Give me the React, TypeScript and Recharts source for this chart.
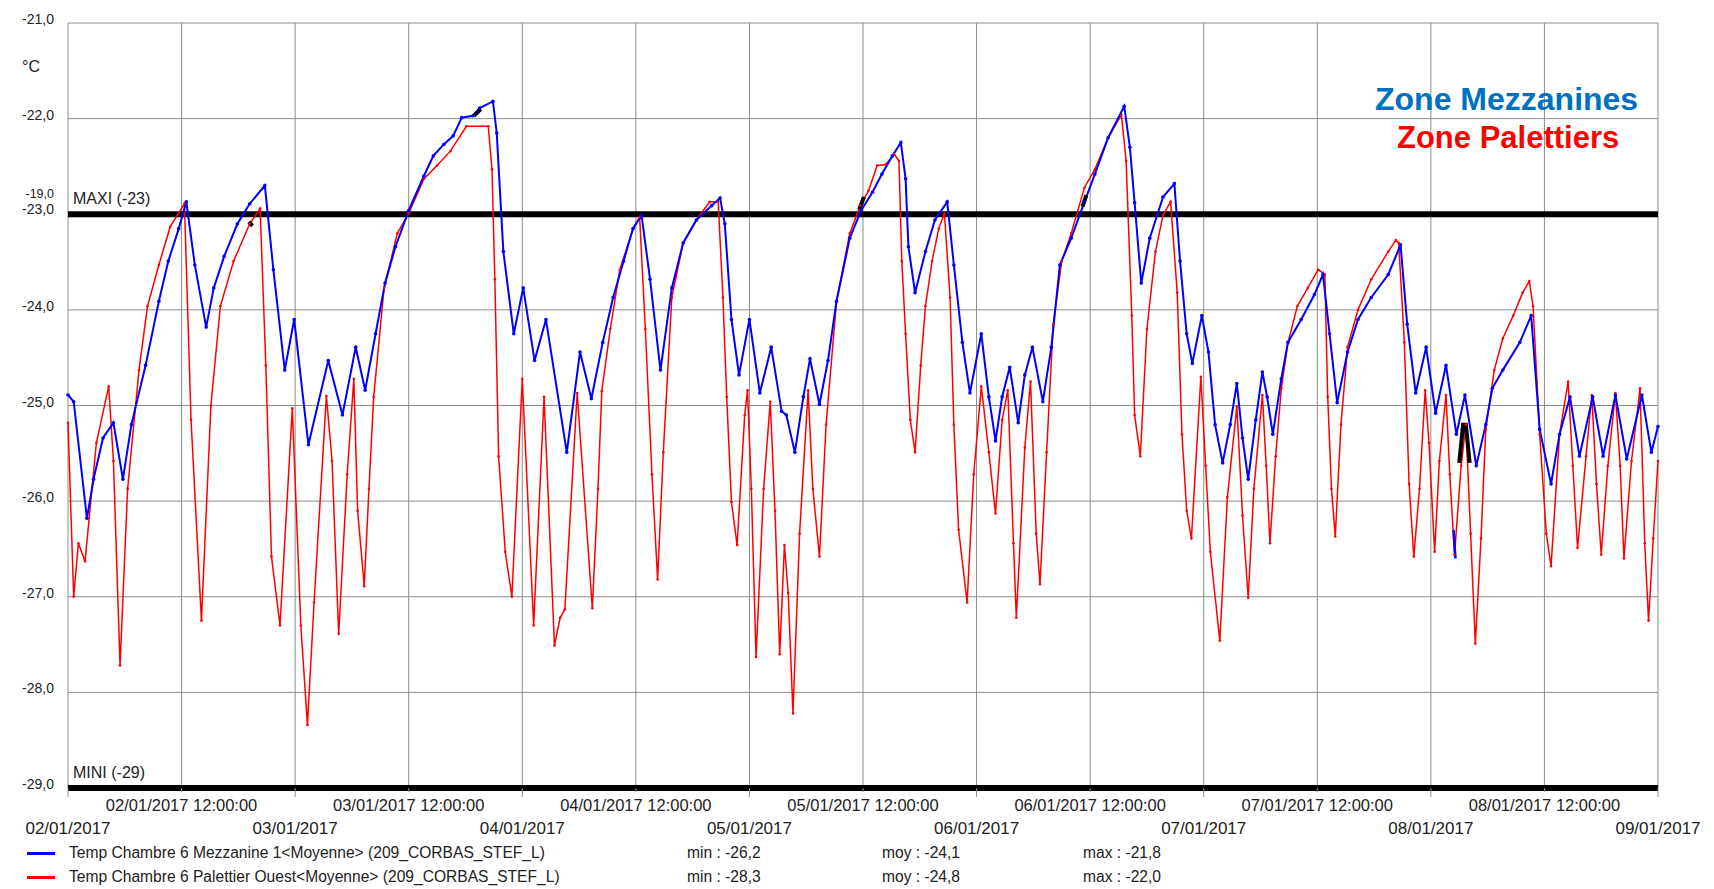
import React from 'react';
import {
  LineChart,
  Line,
  XAxis,
  YAxis,
  CartesianGrid,
  ReferenceLine,
  Legend,
} from 'recharts';

const FONT = "'Liberation Sans', Arial, sans-serif";
const GRID = '#8c8c8c';

// x = hours since 02/01/2017 00:00
const dayLabels = [
  '02/01/2017', '03/01/2017', '04/01/2017', '05/01/2017',
  '06/01/2017', '07/01/2017', '08/01/2017', '09/01/2017',
];
const hourTicks = [0, 12, 24, 36, 48, 60, 72, 84, 96, 108, 120, 132, 144, 156, 168];
const tempTicks = [-29, -28, -27, -26, -25, -24, -23, -22, -21];

// [hour, °C]
const mezzanine = [
  [0, -24.89], [0.6, -24.96], [2.0, -26.18], [2.7, -25.77], [3.7, -25.34], [4.8, -25.18],
  [5.8, -25.77], [6.7, -25.2], [8.2, -24.58], [9.6, -23.91], [10.6, -23.49], [11.7, -23.15],
  [12.5, -22.87], [13.4, -23.53], [14.6, -24.18], [15.4, -23.77], [16.5, -23.44], [17.9, -23.1],
  [19.2, -22.89], [20.8, -22.7], [21.7, -23.58], [22.9, -24.63], [23.9, -24.1], [25.4, -25.41],
  [27.5, -24.53], [29.0, -25.1], [30.4, -24.39], [31.4, -24.84], [32.5, -24.25], [33.5, -23.72],
  [34.6, -23.34], [36.0, -22.96], [37.6, -22.6], [38.6, -22.39], [39.7, -22.27], [40.7, -22.18],
  [41.6, -21.99], [42.8, -21.97], [43.5, -21.89], [44.9, -21.82], [45.3, -22.15], [46.0, -23.39],
  [47.1, -24.25], [48.1, -23.77], [49.3, -24.53], [50.5, -24.1], [52.7, -25.49], [54.1, -24.44],
  [55.3, -24.93], [56.5, -24.34], [57.6, -23.87], [58.7, -23.49], [59.7, -23.15], [60.6, -23.01],
  [61.5, -23.68], [62.6, -24.63], [63.8, -23.77], [65.0, -23.3], [66.4, -23.06], [68.0, -22.91],
  [68.9, -22.83], [69.4, -23.1], [70.1, -24.1], [70.9, -24.68], [72.0, -24.1], [73.1, -24.87],
  [74.3, -24.39], [75.4, -25.06], [75.9, -25.1], [76.8, -25.49], [77.7, -24.91], [78.4, -24.51],
  [79.4, -24.99], [80.3, -24.53], [81.2, -23.91], [82.6, -23.25], [83.8, -22.96], [85.0, -22.77],
  [86.0, -22.58], [87.1, -22.39], [88.0, -22.25], [88.5, -22.63], [88.8, -23.34], [89.5, -23.82],
  [90.6, -23.39], [91.6, -23.06], [92.9, -22.87], [93.6, -23.53], [94.5, -24.34], [95.3, -24.87],
  [96.5, -24.25], [97.3, -24.91], [98.0, -25.37], [98.7, -24.91], [99.5, -24.6], [100.4, -25.18],
  [101.1, -24.68], [101.9, -24.39], [103.0, -24.96], [103.9, -24.39], [104.8, -23.53], [106.0, -23.25],
  [107.4, -22.87], [108.5, -22.58], [109.9, -22.2], [111.6, -21.87], [112.2, -22.3], [112.7, -22.88],
  [113.4, -23.72], [114.3, -23.25], [115.7, -22.82], [116.9, -22.68], [117.5, -23.49], [118.2, -24.25],
  [118.8, -24.56], [119.8, -24.06], [120.5, -24.44], [121.2, -25.2], [122.0, -25.6], [122.8, -25.2],
  [123.5, -24.77], [124.1, -25.34], [124.7, -25.77], [125.5, -25.15], [126.2, -24.65], [126.7, -24.91],
  [127.3, -25.3], [128.2, -24.72], [128.9, -24.34], [130.3, -24.1], [131.7, -23.84], [132.6, -23.63],
  [133.3, -24.25], [134.1, -24.97], [135.2, -24.44], [136.3, -24.1], [137.7, -23.87], [139.5, -23.63],
  [140.8, -23.32], [141.5, -24.15], [142.4, -24.87], [143.5, -24.39], [144.5, -25.08], [145.6, -24.58],
  [146.7, -25.3], [147.6, -24.89], [148.8, -25.63], [149.8, -25.2], [150.5, -24.82], [151.6, -24.63],
  [153.4, -24.34], [154.6, -24.06], [155.5, -25.25], [156.7, -25.82], [157.6, -25.3], [158.7, -24.91],
  [159.7, -25.53], [161.1, -24.91], [162.2, -25.53], [163.5, -24.89], [164.7, -25.56], [166.3, -24.89],
  [167.3, -25.49], [168.0, -25.22],
];

const palettier = [
  [0, -25.18], [0.6, -27.0], [1.1, -26.44], [1.8, -26.63], [3.0, -25.39], [4.3, -24.8],
  [4.8, -25.58], [5.5, -27.72], [6.3, -25.87], [7.5, -24.63], [8.4, -23.96], [9.6, -23.53],
  [10.8, -23.13], [12.3, -22.89], [13.0, -25.15], [14.1, -27.25], [15.1, -25.0], [16.1, -23.96],
  [17.5, -23.49], [19.2, -23.1], [20.3, -22.94], [20.9, -24.58], [21.5, -26.58], [22.4, -27.3],
  [23.7, -25.03], [24.6, -27.3], [25.3, -28.34], [26.0, -27.06], [27.3, -24.9], [27.9, -25.58],
  [28.6, -27.39], [29.5, -25.72], [30.2, -24.72], [30.6, -26.1], [31.3, -26.89], [31.8, -25.87],
  [32.3, -24.91], [33.4, -23.77], [34.8, -23.2], [36.0, -22.99], [37.6, -22.63], [39.0, -22.49],
  [40.4, -22.34], [42.1, -22.08], [44.4, -22.08], [44.8, -22.53], [45.1, -23.68], [45.5, -25.53],
  [46.2, -26.53], [46.9, -27.0], [48.0, -24.72], [49.2, -27.3], [50.3, -24.91], [51.4, -27.51],
  [52.0, -27.22], [52.5, -27.13], [53.8, -24.87], [55.4, -27.12], [56.0, -25.87], [56.4, -24.85],
  [57.3, -24.2], [58.3, -23.58], [59.7, -23.15], [60.4, -23.03], [61.0, -24.2], [61.7, -25.72],
  [62.3, -26.82], [62.9, -25.49], [63.8, -23.87], [65.0, -23.3], [66.4, -23.06], [67.8, -22.87],
  [68.7, -22.87], [69.2, -23.87], [69.6, -24.91], [70.1, -26.01], [70.7, -26.46], [71.5, -25.1],
  [71.8, -24.84], [72.2, -25.87], [72.7, -27.63], [73.5, -25.87], [74.2, -24.96], [74.7, -26.1],
  [75.2, -27.6], [75.7, -26.46], [76.1, -26.96], [76.6, -28.22], [77.3, -26.34], [78.2, -24.84],
  [78.7, -25.87], [79.4, -26.58], [80.1, -25.2], [81.2, -23.91], [82.6, -23.2], [83.7, -22.91],
  [84.6, -22.75], [85.5, -22.49], [86.4, -22.48], [87.3, -22.37], [87.8, -22.44], [88.1, -23.49],
  [88.5, -24.25], [89.0, -25.15], [89.5, -25.49], [90.1, -24.58], [90.6, -23.96], [91.3, -23.49],
  [92.0, -23.15], [92.6, -22.99], [93.2, -23.87], [93.6, -25.2], [94.1, -26.3], [95.0, -27.06],
  [95.7, -25.72], [96.5, -24.8], [97.3, -25.49], [98.0, -26.13], [98.7, -25.15], [99.3, -24.84],
  [99.9, -26.44], [100.2, -27.22], [101.1, -25.44], [101.7, -24.75], [102.3, -26.34], [102.7, -26.87],
  [103.4, -25.49], [104.1, -24.15], [105.0, -23.49], [106.0, -23.2], [107.4, -22.72], [108.5, -22.53],
  [109.9, -22.2], [111.3, -21.96], [111.8, -22.44], [112.4, -24.06], [112.7, -25.1], [113.3, -25.53],
  [114.0, -24.2], [114.9, -23.39], [115.7, -23.01], [116.5, -22.87], [117.2, -23.82], [117.7, -25.3],
  [118.2, -26.1], [118.7, -26.39], [119.7, -24.7], [120.2, -25.63], [120.7, -26.53], [121.7, -27.46],
  [122.5, -25.96], [123.5, -25.01], [124.1, -26.15], [124.7, -27.01], [125.3, -25.87], [126.2, -24.89],
  [126.6, -25.63], [127.0, -26.44], [127.6, -25.53], [128.2, -24.82], [128.9, -24.34], [129.9, -23.96],
  [131.0, -23.77], [132.1, -23.58], [132.8, -23.63], [133.1, -24.91], [133.5, -25.87], [133.9, -26.37],
  [134.5, -25.2], [135.2, -24.39], [136.3, -24.0], [137.7, -23.68], [139.5, -23.39], [140.3, -23.27],
  [140.6, -23.3], [141.2, -24.34], [141.7, -25.82], [142.2, -26.58], [142.8, -25.87], [143.4, -24.84],
  [143.8, -25.39], [144.4, -26.53], [144.9, -25.58], [145.6, -24.89], [146.0, -25.72], [146.5, -26.56],
  [147.2, -25.63], [147.7, -25.2], [148.2, -26.34], [148.7, -27.49], [149.3, -26.39], [149.8, -25.25],
  [150.7, -24.63], [151.6, -24.3], [152.7, -24.06], [153.7, -23.82], [154.4, -23.7], [154.8, -23.96],
  [155.5, -25.3], [156.2, -26.34], [156.7, -26.68], [157.6, -25.3], [158.5, -24.75], [159.0, -25.63],
  [159.5, -26.49], [160.4, -25.53], [161.0, -24.89], [161.5, -25.82], [162.0, -26.56], [162.7, -25.63],
  [163.5, -24.87], [164.0, -25.63], [164.4, -26.6], [165.2, -25.58], [166.1, -24.82], [166.6, -26.44],
  [167.0, -27.25], [167.5, -26.39], [168.0, -25.58],
];

// stray mezzanine samples and black alarm marks
const mezzStray = [[146.4, -26.3], [146.6, -26.6]];
const alarmMarks = [
  [19.1, -23.08], [19.5, -23.12], [19.6, null],
  [42.9, -21.97], [43.6, -21.9], [43.7, null],
  [83.6, -22.95], [84.1, -22.82], [84.2, null],
  [107.2, -22.92], [107.6, -22.8], [107.7, null],
  [147.0, -25.6], [147.4, -25.2], [147.7, -25.2], [148.1, -25.6],
];

const seriesNames = [
  'Temp Chambre 6 Mezzanine 1<Moyenne> (209_CORBAS_STEF_L)',
  'Temp Chambre 6 Palettier Ouest<Moyenne> (209_CORBAS_STEF_L)',
];
const seriesColors = ['#0000ff', '#ff0000'];
const seriesMin = ['-26,2', '-28,3'];
const seriesMoy = ['-24,1', '-24,8'];
const seriesMax = ['-21,8', '-22,0'];

const toPoints = (rows) => rows.map(([h, v]) => ({ h, v }));

const fmt = (v) => v.toFixed(1).replace('.', ',');

const XTick = ({ x, y, payload }) => {
  const h = payload.value;
  const noon = h % 24 === 12;
  const day = dayLabels[Math.floor(h / 24)];
  return (
    <g>
      <line x1={x} x2={x} y1={y} y2={y + (noon ? 4 : 9)} stroke={GRID} />
      <text
        x={x}
        y={y + (noon ? 23 : 46)}
        textAnchor="middle"
        fontFamily={FONT}
        fontSize={noon ? 16.5 : 17}
        fill="#222"
      >
        {noon ? `${day} 12:00:00` : day}
      </text>
    </g>
  );
};

const YTick = ({ x, y, payload }) => {
  const v = payload.value;
  const shift = v === -23 ? -5 : -4;
  return (
    <g>
      {v === -23 && (
        <text x={x - 14} y={y - 16} textAnchor="end" fontFamily={FONT} fontSize={12.5} fill="#222">
          -19,0
        </text>
      )}
      <text x={x - 14} y={y + shift + 5} textAnchor="end" fontFamily={FONT} fontSize={14} fill="#222">
        {fmt(v)}
      </text>
    </g>
  );
};

const UnitLabel = () => (
  <text x={31} y={72} textAnchor="middle" fontFamily={FONT} fontSize={16} fill="#222">
    °C
  </text>
);

const limitLabel = (text) => ({ viewBox }) => (
  <text x={viewBox.x + 5} y={viewBox.y - 10} fontFamily={FONT} fontSize={16} fill="#222">
    {text}
  </text>
);

const renderLegend = () => (
  <div style={{ position: 'relative', width: 1200, height: 48, fontFamily: FONT, fontSize: 15.6, color: '#222' }}>
    {seriesNames.map((name, i) => (
      <div key={name} style={{ position: 'absolute', left: 0, top: i * 24, width: 1200, height: 24 }}>
        <span style={{ position: 'absolute', left: 27, top: 11, width: 28, height: 3, background: seriesColors[i] }} />
        <span style={{ position: 'absolute', left: 69, top: 0, lineHeight: '24px', whiteSpace: 'nowrap' }}>{name}</span>
        <span style={{ position: 'absolute', left: 687, top: 0, lineHeight: '24px' }}>{`min : ${seriesMin[i]}`}</span>
        <span style={{ position: 'absolute', left: 882, top: 0, lineHeight: '24px' }}>{`moy : ${seriesMoy[i]}`}</span>
        <span style={{ position: 'absolute', left: 1083, top: 0, lineHeight: '24px' }}>{`max : ${seriesMax[i]}`}</span>
      </div>
    ))}
  </div>
);

export default function App() {
  return (
    <>
      <style>{'body { margin: 0; }'}</style>
      <LineChart
        width={1714}
        height={889}
        margin={{ top: 23, right: 56, bottom: 0, left: 0 }}
        style={{ background: '#fff' }}
      >
        <CartesianGrid stroke={GRID} strokeWidth={1} />
        <XAxis
          type="number"
          dataKey="h"
          domain={[0, 168]}
          ticks={hourTicks}
          interval={0}
          height={101}
          axisLine={false}
          tickLine={false}
          tickSize={0}
          tickMargin={0}
          tick={<XTick />}
        />
        <YAxis
          type="number"
          domain={[-29, -21]}
          ticks={tempTicks}
          interval={0}
          width={68}
          axisLine={false}
          tickLine={false}
          tickSize={0}
          tickMargin={0}
          tick={<YTick />}
          label={<UnitLabel />}
        />
        <ReferenceLine y={-23} stroke="#000" strokeWidth={6} label={limitLabel('MAXI (-23)')} />
        <ReferenceLine y={-29} stroke="#000" strokeWidth={6} label={limitLabel('MINI (-29)')} />
        <Line
          data={toPoints(palettier)}
          dataKey="v"
          type="linear"
          stroke={seriesColors[1]}
          strokeWidth={1.5}
          dot={{ r: 1.3, fill: seriesColors[1], stroke: 'none' }}
          isAnimationActive={false}
        />
        <Line
          data={toPoints(mezzanine)}
          dataKey="v"
          type="linear"
          stroke={seriesColors[0]}
          strokeWidth={2}
          dot={{ r: 1.8, fill: seriesColors[0], stroke: 'none' }}
          isAnimationActive={false}
        />
        <Line
          data={toPoints(mezzStray)}
          dataKey="v"
          type="linear"
          stroke={seriesColors[0]}
          strokeWidth={2.5}
          dot={false}
          isAnimationActive={false}
        />
        <Line
          data={toPoints(alarmMarks)}
          dataKey="v"
          type="linear"
          stroke="#000"
          strokeWidth={4}
          dot={false}
          connectNulls={false}
          isAnimationActive={false}
        />
        <Legend
          layout="horizontal"
          verticalAlign="middle"
          content={renderLegend}
          wrapperStyle={{ top: 841, left: 0, width: 1200, height: 48 }}
        />
        <text x={1375} y={110} fontFamily={FONT} fontWeight="bold" fontSize={32} fill="#0070c0">
          Zone Mezzanines
        </text>
        <text x={1397} y={148} fontFamily={FONT} fontWeight="bold" fontSize={31} fill="#ff0000">
          Zone Palettiers
        </text>
      </LineChart>
    </>
  );
}
